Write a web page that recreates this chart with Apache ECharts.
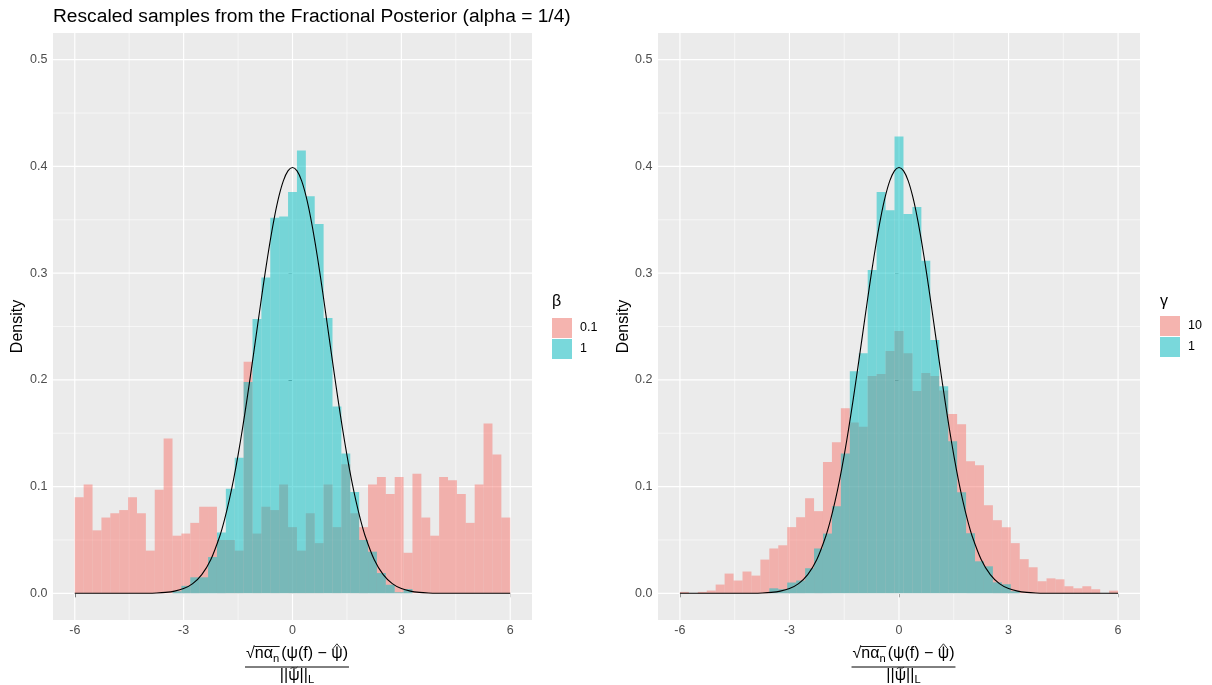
<!DOCTYPE html>
<html><head><meta charset="utf-8">
<script src="https://cdn.jsdelivr.net/npm/echarts@6/dist/echarts.min.js"></script>
<style>html,body{margin:0;padding:0;background:#fff}#c{width:1212px;height:685px}</style>
</head><body><div id="c"></div>
<script>
// ---------- data ----------
const X_MIN = -6, X_MAX = 6, N_BINS = 49;           // histogram breaks: 49 equal bins on [-6, 6]
const titleText = 'Rescaled samples from the Fractional Posterior (alpha = 1/4)';
const xTicks = [-6, -3, 0, 3, 6];
const xMinor = [-4.5, -1.5, 1.5, 4.5];
const yTicks = [0, 0.1, 0.2, 0.3, 0.4, 0.5];
const yMinor = [0.05, 0.15, 0.25, 0.35, 0.45];

// left panel: beta
const betaNames = ['0.1', '1'];
const beta01 = [0.090,0.102,0.059,0.071,0.075,0.078,0.090,0.075,0.040,0.097,
  0.145,0.054,0.056,0.066,0.081,0.081,0.050,0.050,0.040,0.217,
  0.056,0.081,0.078,0.102,0.062,0.040,0.075,0.047,0.102,0.062,
  0.121,0.075,0.062,0.102,0.109,0.093,0.109,0.038,0.112,0.071,
  0.054,0.109,0.106,0.093,0.066,0.102,0.159,0.130,0.071];
const beta1 = [0,0,0,0,0,0,0,0,0,0,
  0,0.002,0.007,0.015,0.015,0.034,0.057,0.098,0.127,0.198,
  0.257,0.296,0.352,0.353,0.376,0.415,0.372,0.346,0.258,0.175,
  0.131,0.095,0.050,0.039,0.019,0.008,0.001,0.004,0,0,
  0,0,0,0,0,0,0,0,0];

// right panel: gamma
const gammaNames = ['10', '1'];
const gamma10 = [0.0013,0,0.0013,0.0026,0.0082,0.0185,0.012,0.0204,0.0166,0.0316,
  0.042,0.045,0.062,0.0713,0.089,0.077,0.123,0.1416,0.1735,0.160,
  0.156,0.2036,0.2055,0.227,0.2458,0.225,0.1895,0.2064,0.2036,0.190,
  0.168,0.1585,0.1238,0.120,0.0826,0.0685,0.0619,0.047,0.032,0.0244,
  0.0113,0.014,0.0131,0.0066,0.0047,0.0066,0.0038,0,0.0025];
const gamma1 = [0,0,0,0,0,0,0,0,0,0,
  0.0047,0.0038,0.0101,0.012,0.0235,0.042,0.056,0.0816,0.131,0.208,
  0.225,0.303,0.376,0.359,0.428,0.3555,0.362,0.3115,0.2373,0.194,
  0.1426,0.0948,0.0563,0.030,0.0253,0.0103,0.0085,0.002,0,0,
  0,0,0,0,0,0,0,0,0];

// reference density curve
const curveX = [-6,-5,-4.5,-4,-3.75,-3.5,-3.25,-3,-2.75,-2.5,-2.25,-2,-1.875,-1.75,-1.625,-1.5,-1.375,-1.25,-1.125,-1,-0.875,-0.75,-0.625,-0.5,-0.375,-0.25,-0.125,
  0,0.125,0.25,0.375,0.5,0.625,0.75,0.875,1,1.125,1.25,1.375,1.5,1.625,1.75,1.875,2,2.25,2.5,2.75,3,3.25,3.5,3.75,4,4.5,5,6];
const curveY = [0,0,0.00002,0.00013,0.00035,0.00087,0.00203,0.00443,0.00909,0.01753,0.03174,0.05399,0.06879,0.08628,0.10655,0.12952,0.15501,0.18265,0.21187,0.24197,0.27204,0.30114,0.32816,0.35207,0.37185,0.38667,0.39584,
  0.39894,0.39584,0.38667,0.37185,0.35207,0.32816,0.30114,0.27204,0.24197,0.21187,0.18265,0.15501,0.12952,0.10655,0.08628,0.06879,0.05399,0.03174,0.01753,0.00909,0.00443,0.00203,0.00087,0.00035,0.00013,0.00002,0,0];

// ---------- styling ----------
const FONT = '"Liberation Sans", Arial, Helvetica, sans-serif';
const PINK = 'rgba(248,118,109,0.5)';
const TEAL = 'rgba(0,191,196,0.5)';
const BIN_W = (X_MAX - X_MIN) / N_BINS;
const TICK_FS = 12.5, TITLE_FS = 16, SUB_FS = 11.2;

function histSeries(name, gi, vals, color, z) {
  const data = vals.map((v, i) => [X_MIN + i * BIN_W, X_MIN + (i + 1) * BIN_W, v]).filter(d => d[2] > 0);
  return {
    type: 'custom', name, xAxisIndex: gi, yAxisIndex: gi, z, silent: true,
    itemStyle: { color },
    encode: { x: [0, 1], y: 2 },
    renderItem(params, api) {
      const p0 = api.coord([api.value(0), api.value(2)]);
      const p1 = api.coord([api.value(1), 0]);
      return { type: 'rect', shape: { x: p0[0], y: p0[1], width: p1[0] - p0[0], height: p1[1] - p0[1] },
        style: { fill: color } };
    },
    data
  };
}

function gridSeries(gi) {
  const data = [];
  xTicks.forEach(v => data.push([v, 0, 0, 1]));
  xMinor.forEach(v => data.push([v, 0, 0, 0]));
  yTicks.forEach(v => data.push([0, v, 1, 1]));
  yMinor.forEach(v => data.push([0, v, 1, 0]));
  return {
    type: 'custom', xAxisIndex: gi, yAxisIndex: gi, z: 1, silent: true,
    encode: { x: 0, y: 1 },
    renderItem(params, api) {
      const cs = params.coordSys;
      const w = api.value(3) ? 1.15 : 0.55;
      if (api.value(2) === 0) {
        const px = api.coord([api.value(0), 0])[0];
        return { type: 'line', shape: { x1: px, y1: cs.y, x2: px, y2: cs.y + cs.height }, style: { stroke: '#FFFFFF', lineWidth: w } };
      }
      const py = api.coord([0, api.value(1)])[1];
      return { type: 'line', shape: { x1: cs.x, y1: py, x2: cs.x + cs.width, y2: py }, style: { stroke: '#FFFFFF', lineWidth: w } };
    },
    data
  };
}

function curveSeries(gi) {
  return {
    type: 'line', xAxisIndex: gi, yAxisIndex: gi, z: 5, silent: true, symbol: 'none', smooth: 0.3,
    lineStyle: { color: '#000000', width: 1.1 },
    data: curveX.map((x, i) => [x, curveY[i]])
  };
}

function xAxisCfg(gi) {
  return {
    gridIndex: gi, type: 'value', min: -6.6, max: 6.6,
    splitLine: { show: false }, axisLine: { show: false },
    axisTick: { show: true, customValues: xTicks, length: 4, lineStyle: { color: '#333333', width: 1 } },
    axisLabel: { customValues: xTicks, color: '#4D4D4D', fontSize: TICK_FS, fontFamily: FONT, margin: 4.5,
      formatter: v => String(v) }
  };
}
function yAxisCfg(gi) {
  return {
    gridIndex: gi, type: 'value', min: -0.025, max: 0.525,
    splitLine: { show: false }, axisLine: { show: false },
    axisTick: { show: true, customValues: yTicks, length: 4, lineStyle: { color: '#333333', width: 1 } },
    axisLabel: { customValues: yTicks, color: '#4D4D4D', fontSize: TICK_FS, fontFamily: FONT, margin: 5.5,
      formatter: v => v.toFixed(1) }
  };
}

// ---------- x-axis title (fraction) ----------
const mctx = document.createElement('canvas').getContext('2d');
function tw(t, s) { mctx.font = s + 'px ' + FONT; return mctx.measureText(t).width; }
function txt(x, y, t, s, align) {
  return { type: 'text', x, y, silent: true,
    style: { text: t, fontSize: s, fontFamily: FONT, fill: '#000', align: align || 'left', verticalAlign: 'middle' } };
}
function seg(x1, y1, x2, y2, w) {
  return { type: 'line', silent: true, shape: { x1, y1, x2, y2 }, style: { stroke: '#000', lineWidth: w || 1 } };
}
function fraction(cx) {
  const fs = TITLE_FS, ss = SUB_FS, ny = 654, ly = 667, dy = 675.5;
  const p1 = '\u221A', p2 = 'n\u03B1', p3 = 'n', p4 = '(\u03C8(f) \u2212 ', p5 = '\u03C8', p6 = ')';
  const w1 = tw(p1, fs), w2 = tw(p2, fs), w3 = tw(p3, ss), w4 = tw(p4, fs), w5 = tw(p5, fs), w6 = tw(p6, fs);
  const W = w1 + w2 + w3 + 2 + w4 + w5 + w6;
  const x0 = cx - W / 2;
  const els = [];
  let x = x0;
  els.push(txt(x, ny, p1, fs)); x += w1;
  const ol0 = x;
  els.push(txt(x, ny, p2, fs)); x += w2;
  els.push(txt(x, ny + 4.5, p3, ss)); x += w3;
  els.push(seg(ol0 - 0.5, ny - 7.5, x + 0.5, ny - 7.5, 0.9));
  x += 2;
  els.push(txt(x, ny, p4, fs)); x += w4;
  const pc = x + w5 / 2;
  els.push(txt(x, ny, p5, fs)); x += w5;
  // hat accent over psi
  els.push({ type: 'polyline', silent: true, shape: { points: [[pc - 4.6, ny - 4.6], [pc, ny - 10.2], [pc + 4.6, ny - 4.6]] },
    style: { stroke: '#000', lineWidth: 0.8, fill: null } });
  els.push(txt(x, ny, p6, fs)); x += w6;
  els.push(seg(x0 - 1, ly, x0 + W + 1, ly, 1));
  // denominator ||psi~||_L
  const d1 = '||', d2 = '\u03C8', d3 = '||', d4 = 'L';
  const dw1 = tw(d1, fs), dw2 = tw(d2, fs), dw3 = tw(d3, fs), dw4 = tw(d4, ss);
  let dx = cx - (dw1 + dw2 + dw3 + dw4) / 2;
  els.push(txt(dx, dy, d1, fs)); dx += dw1;
  const tc = dx + dw2 / 2;
  els.push(txt(dx, dy, d2, fs)); dx += dw2;
  els.push({ type: 'bezierCurve', silent: true,
    shape: { x1: tc - 3.6, y1: dy - 6.4, cpx1: tc - 1.2, cpy1: dy - 9.8, cpx2: tc + 1.2, cpy2: dy - 5.4, x2: tc + 3.6, y2: dy - 8.6 },
    style: { stroke: '#000', lineWidth: 0.8, fill: null } });
  els.push(txt(dx, dy, d3, fs)); dx += dw3;
  els.push(txt(dx, dy + 4.5, d4, ss));
  return els;
}

function rotText(x, y, t) {
  return { type: 'text', x, y, rotation: Math.PI / 2, silent: true,
    style: { text: t, fontSize: TITLE_FS, fontFamily: FONT, fill: '#000', align: 'center', verticalAlign: 'middle' } };
}

const graphics = [
  txt(53, 17.2, titleText, 19.2),
  rotText(18, 326.5, 'Density'),
  rotText(624, 326.5, 'Density'),
  txt(552, 302, '\u03B2', TITLE_FS),
  txt(1160, 302, '\u03B3', TITLE_FS),
  ...fraction(297),
  ...fraction(903.5)
];

function legendCfg(left, top, names) {
  return {
    orient: 'vertical', left, top, padding: 0, itemWidth: 20, itemHeight: 20, itemGap: 1, icon: 'rect',
    selectedMode: false,
    textStyle: { fontSize: TICK_FS, color: '#000', fontFamily: FONT, padding: [0, 0, 0, 3] },
    data: [{ name: names[0], itemStyle: { color: '#F5B4AF', borderWidth: 0 } },
           { name: names[1], itemStyle: { color: '#79D8DB', borderWidth: 0 } }]
  };
}

const chart = echarts.init(document.getElementById('c'), null, { renderer: 'canvas' });
chart.setOption({
  animation: false,
  backgroundColor: '#FFFFFF',
  grid: [
    { left: 53, right: 680, top: 33, bottom: 65, show: true, backgroundColor: '#EBEBEB', borderWidth: 0 },
    { left: 658, right: 72, top: 33, bottom: 65, show: true, backgroundColor: '#EBEBEB', borderWidth: 0 }
  ],
  xAxis: [xAxisCfg(0), xAxisCfg(1)],
  yAxis: [yAxisCfg(0), yAxisCfg(1)],
  legend: [legendCfg(552, 318, betaNames), legendCfg(1160, 316, gammaNames)],
  series: [
    gridSeries(0), gridSeries(1),
    histSeries(betaNames[0], 0, beta01, PINK, 2),
    histSeries(betaNames[1], 0, beta1, TEAL, 3),
    histSeries(gammaNames[0], 1, gamma10, PINK, 2),
    histSeries(gammaNames[1], 1, gamma1, TEAL, 3),
    curveSeries(0), curveSeries(1)
  ],
  graphic: graphics
});
</script></body></html>
